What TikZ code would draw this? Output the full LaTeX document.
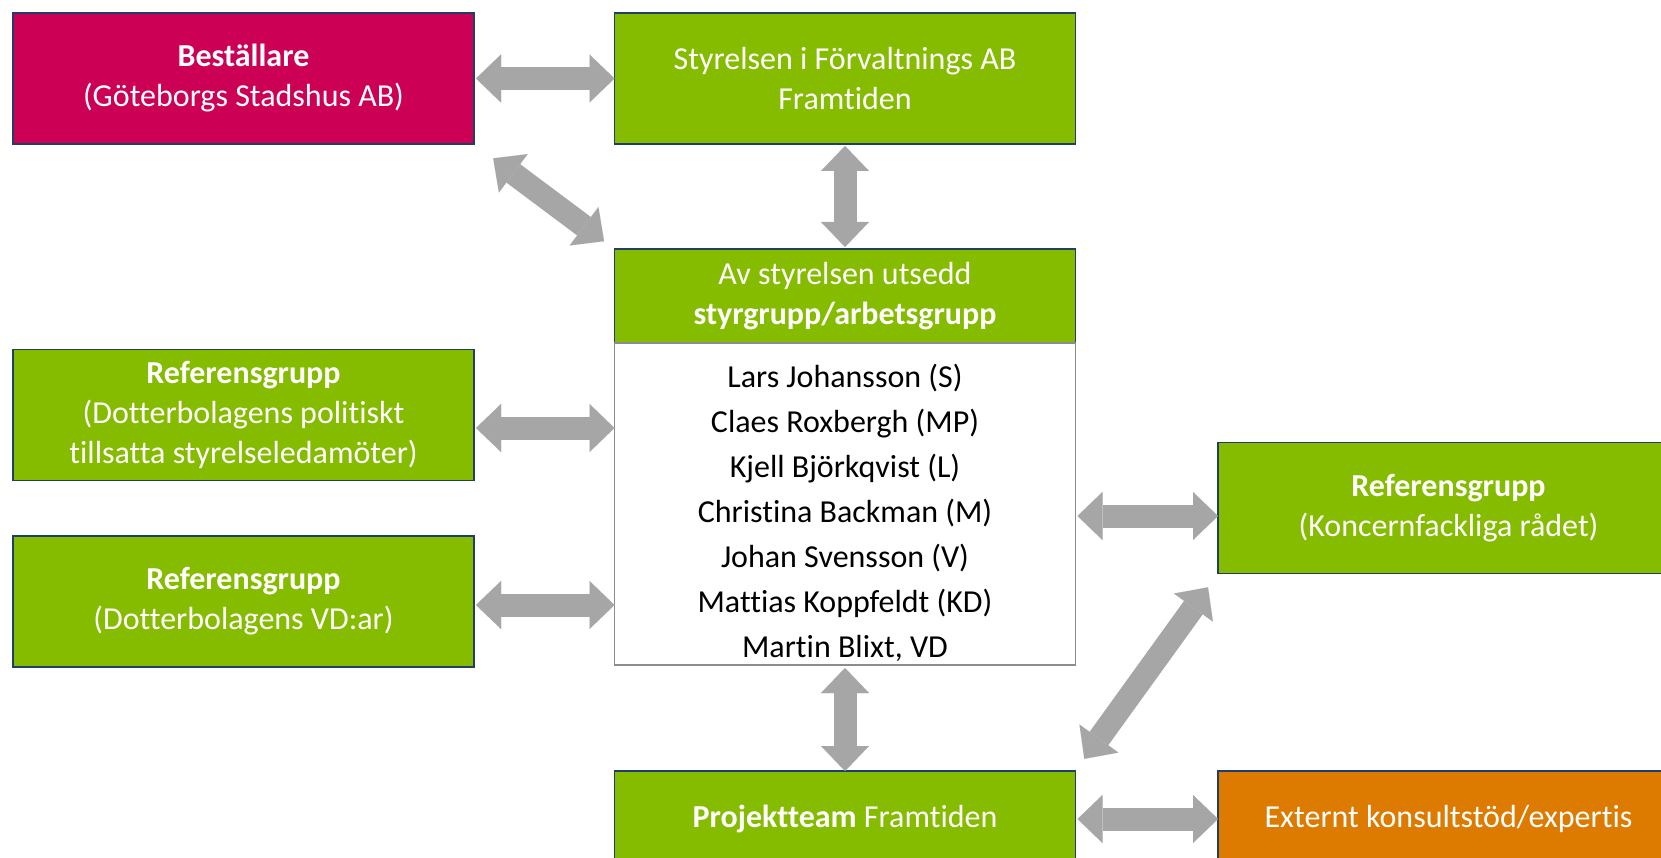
\documentclass[tikz,border=0pt]{standalone}
\usepackage{fontspec}
\setmainfont{Carlito}[Ligatures=NoCommon]
\usepackage{tikz}
\usetikzlibrary{arrows.meta, positioning}

\definecolor{magenta}{HTML}{CC0055}
\definecolor{leaf}{HTML}{85BC00}
\definecolor{amber}{HTML}{DD7A00}
\definecolor{navy}{HTML}{1F3F66}
\definecolor{arrowgray}{HTML}{A6A6A6}
\definecolor{listgray}{HTML}{8C8C8C}

\begin{document}
\begin{tikzpicture}[x=1pt, y=-1pt]
\tikzset{ inner sep=0pt, outer sep=0pt,
  box/.style={rectangle, draw=navy, line width=1.5pt, minimum width=461pt,
    minimum height=131pt, text=white, align=center,
    font=\fontsize{32}{40}\selectfont},
  biarrow/.style={draw=arrowgray, line width=23pt,
    {Triangle[length=25pt, width=48pt, line width=0.01pt]}-{Triangle[length=25pt, width=48pt, line width=0.01pt]}},
}

\clip (0,0) rectangle (1661,858);
%\draw [lightgray, dashed](0,0) grid [step=100] (1661,858);

\node [box, fill=magenta] (B) at ( 243.5, 78.5) {\textbf{Beställare}\\(Göteborgs Stadshus AB)};
\node [box, fill=leaf]    (S) at ( 845.0, 78.5) {Styrelsen i Förvaltnings AB\\Framtiden};

\node [box, fill=leaf, minimum height=94pt] (H) at (845.0,296.0) {Av styrelsen utsedd\\\textbf{styrgrupp/arbetsgrupp}};
\node [box, draw=listgray, fill=white, text=black, minimum height=322pt,
  font=\fontsize{32}{45}\selectfont, below=0pt of H] (L)
  {\rule{0pt}{42pt}Lars Johansson (S)\\Claes Roxbergh (MP)\\Kjell Björkqvist (L)\\Christina Backman (M)\\Johan Svensson (V)\\Mattias Koppfeldt (KD)\\Martin Blixt, VD};

\node [box, fill=leaf] (R1) at ( 243.5,415.0) {\textbf{Referensgrupp}\\(Dotterbolagens politiskt\\tillsatta styrelseledamöter)};
\node [box, fill=leaf] (R2) at ( 243.5,601.5) {\textbf{Referensgrupp}\\(Dotterbolagens VD:ar)};
\node [box, fill=leaf] (K)  at (1448.5,508.0) {\textbf{Referensgrupp}\\(Koncernfackliga rådet)};

\node [box, fill=leaf,  minimum height=96pt] (P) at ( 845.0,819.0) {\textbf{Projektteam} Framtiden};
\node [box, fill=amber, minimum height=96pt] (E) at (1448.5,819.0) {Externt konsultstöd/expertis};

\draw [biarrow, shorten <=2pt] (B) -- (S);
\draw [biarrow, shorten <=2pt, shorten >=2pt] (S) -- (H);
\draw [biarrow, shorten <=24pt, shorten >=13pt] (B.south east) -- (H.north west);

\draw [biarrow, shorten <=2pt] ([yshift=-13pt]R1.east) -- ([yshift=-13pt]R1.east -| L.west);
\draw [biarrow, shorten <=2pt] ([yshift=-3.5pt]R2.east) -- ([yshift=-3.5pt]R2.east -| L.west);
\draw [biarrow, shorten <=2pt] ([yshift=-8pt]K.west -| L.east) -- ([yshift=-8pt]K.west);

\draw [biarrow, shorten <=3pt] (L) -- (P);
\draw [biarrow, shorten <=17pt, shorten >=15pt] (K.south west) -- (P.north east);
\draw [biarrow, shorten <=2pt] (P) -- (E);

\end{tikzpicture}
\end{document}
